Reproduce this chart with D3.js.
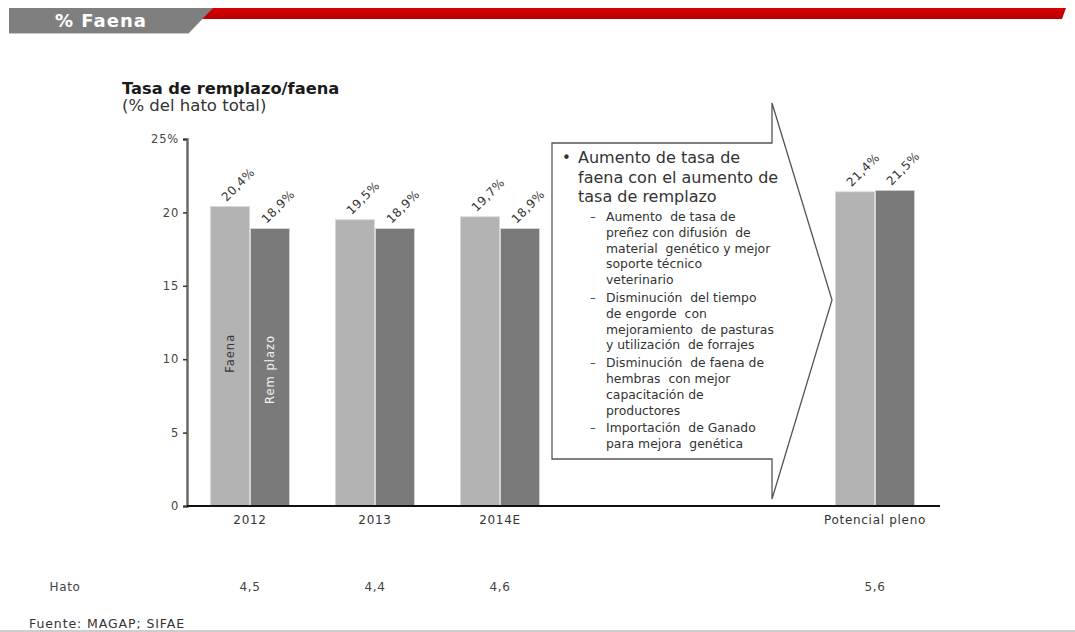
<!DOCTYPE html>
<html>
<head>
<meta charset="utf-8">
<script src="https://cdn.jsdelivr.net/npm/d3@7"></script>
<style>
  html, body { margin: 0; padding: 0; background: #fff; }
  svg { display: block; font-family: "DejaVu Sans", Verdana, sans-serif; }
</style>
</head>
<body>
<svg id="chart" width="1075" height="632"></svg>
<script>
// ---- data ----
const categories = ["2012", "2013", "2014E", "Potencial pleno"];
const slots = ["2012", "2013", "2014E", "_a", "_b", "Potencial pleno"];
const faena = [20.4, 19.5, 19.7, 21.4];
const remplazo = [18.9, 18.9, 18.9, 21.5];
const hato = [4.5, 4.4, 4.6, 5.6];
const yTicks = [0, 5, 10, 15, 20, 25];
const seriesNames = ["Faena", "Remplazo"];

const calloutMain = ["Aumento de tasa de", "faena con el aumento de", "tasa de remplazo"];
const calloutItems = [
  ["Aumento  de tasa de", "preñez con difusión  de", "material  genético y mejor", "soporte técnico", "veterinario"],
  ["Disminución  del tiempo", "de engorde  con", "mejoramiento  de pasturas", "y utilización  de forrajes"],
  ["Disminución  de faena de", "hembras  con mejor", "capacitación de", "productores"],
  ["Importación  de Ganado", "para mejora  genética"]
];

const comma = v => d3.format(".1f")(v).replace(".", ",");

const svg = d3.select("#chart");

// ---- header band ----
const hdrGrad = svg.append("defs").append("linearGradient")
  .attr("id", "redGrad").attr("x1", 0).attr("x2", 0).attr("y1", 0).attr("y2", 1);
hdrGrad.append("stop").attr("offset", "0%").attr("stop-color", "#d90000");
hdrGrad.append("stop").attr("offset", "100%").attr("stop-color", "#b80000");

svg.append("path")
  .attr("d", "M205,8 L1066,8 L1062,19 L200,19 Z")
  .attr("fill", "url(#redGrad)");
svg.append("path")
  .attr("d", "M9,8 L213,8 L189,33 L9,33 Z")
  .attr("fill", "#7f7f7f");
svg.append("line")
  .attr("x1", 9).attr("x2", 189).attr("y1", 33.5).attr("y2", 33.5)
  .attr("stroke", "#c8c8c8").attr("stroke-width", 1);
svg.append("text")
  .attr("x", 101).attr("y", 27)
  .attr("text-anchor", "middle")
  .attr("fill", "#fff").attr("font-weight", "bold").attr("font-size", 18)
  .attr("letter-spacing", 1)
  .text("% Faena");

// ---- titles ----
svg.append("text").attr("x", 122).attr("y", 94)
  .attr("font-weight", "bold").attr("font-size", 16.3).attr("fill", "#1a1a1a")
  .text("Tasa de remplazo/faena");
svg.append("text").attr("x", 122).attr("y", 111)
  .attr("font-size", 16.5).attr("fill", "#333")
  .text("(% del hato total)");

// ---- scales ----
const x = d3.scaleBand().domain(slots).range([187.5, 937.5]).paddingInner(0).paddingOuter(0);
const y = d3.scaleLinear().domain([0, 25]).range([506, 139]);
const barW = 40;

// ---- bars ----
const colors = { Faena: "#b3b3b3", Remplazo: "#7a7a7a" };
const rows = categories.map((c, i) => ({ cat: c, Faena: faena[i], Remplazo: remplazo[i] }));

const gBars = svg.append("g");
rows.forEach(r => {
  const cx = x(r.cat) + x.bandwidth() / 2;
  seriesNames.forEach((s, j) => {
    const x0 = cx - barW + j * barW;
    gBars.append("rect")
      .attr("x", x0 + 0.5).attr("y", y(r[s]))
      .attr("width", barW - 1).attr("height", y(0) - y(r[s]))
      .attr("fill", colors[s])
      .attr("stroke", "#d6d6d6").attr("stroke-width", 0.8);
    // rotated value label
    gBars.append("text")
      .attr("transform", `translate(${x0 + barW / 2 + 8},${y(r[s]) - 22}) rotate(-45)`)
      .attr("text-anchor", "middle").attr("dy", "0.35em")
      .attr("font-size", 12).attr("letter-spacing", 0.6).attr("fill", "#333")
      .text(comma(r[s]) + "%");
  });
});

// series names inside the first pair of bars
const first = rows[0];
const fcx = x(first.cat) + x.bandwidth() / 2;
svg.append("text")
  .attr("transform", `translate(${fcx - barW / 2},${y(10.4)}) rotate(-90)`)
  .attr("text-anchor", "middle").attr("dy", "0.35em")
  .attr("font-size", 11.5).attr("letter-spacing", 1).attr("fill", "#333")
  .text(seriesNames[0]);
svg.append("text")
  .attr("transform", `translate(${fcx + barW / 2},${y(9.3)}) rotate(-90)`)
  .attr("text-anchor", "middle").attr("dy", "0.35em")
  .attr("font-size", 11.5).attr("letter-spacing", 1).attr("fill", "#f2f2f2")
  .text("Rem plazo");

// ---- axes ----
const yAxis = svg.append("g")
  .attr("transform", "translate(187,0)")
  .call(d3.axisLeft(y).tickValues(yTicks).tickSize(4).tickPadding(4)
    .tickFormat(d => d === 25 ? "25%" : d));
yAxis.select(".domain").attr("stroke", "#6a6a6a").attr("stroke-width", 2.5);
yAxis.selectAll(".tick line").attr("stroke", "#333").attr("stroke-width", 1.5);
yAxis.selectAll(".tick text").attr("font-size", 11.5).attr("letter-spacing", 0.8).attr("fill", "#444")
  .attr("font-family", "DejaVu Sans, sans-serif");

const xAxis = svg.append("g")
  .attr("transform", `translate(0,${y(0)})`)
  .call(d3.axisBottom(x).tickSize(0).tickPadding(9)
    .tickFormat(d => categories.includes(d) ? d : ""));
xAxis.select(".domain").attr("stroke", "#111").attr("stroke-width", 1.8)
  .attr("d", `M187,0H940`);
xAxis.selectAll(".tick text").attr("font-size", 12).attr("letter-spacing", 0.7).attr("fill", "#333")
  .attr("font-family", "DejaVu Sans, sans-serif");

// ---- herd row ----
svg.append("text").attr("x", 65).attr("y", 591).attr("text-anchor", "middle")
  .attr("font-size", 12).attr("letter-spacing", 0.6).attr("fill", "#444").text("Hato");
svg.append("g").selectAll("text").data(categories).join("text")
  .attr("x", d => x(d) + x.bandwidth() / 2)
  .attr("y", 591).attr("text-anchor", "middle")
  .attr("font-size", 12).attr("letter-spacing", 0.6).attr("fill", "#444")
  .text((d, i) => comma(hato[i]));

// ---- source & bottom rule ----
svg.append("text").attr("x", 29).attr("y", 628)
  .attr("font-size", 12.5).attr("letter-spacing", 0.9).attr("fill", "#333").text("Fuente: MAGAP; SIFAE");
svg.append("line").attr("x1", 0).attr("x2", 1075).attr("y1", 631).attr("y2", 631)
  .attr("stroke", "#bdbdbd").attr("stroke-width", 1.5);

// ---- callout arrow ----
const box = { l: 552, t: 143, r: 772, b: 459 };
const head = { top: 103, tipX: 832, tipY: 300, bot: 499 };
svg.append("path")
  .attr("d", `M${box.l},${box.t} H${box.r} V${head.top} L${head.tipX},${head.tipY} L${box.r},${head.bot} V${box.b} H${box.l} Z`)
  .attr("fill", "#fff").attr("stroke", "#555").attr("stroke-width", 1.3)
  .attr("stroke-linejoin", "miter");

const gc = svg.append("g");
gc.append("text").attr("x", 562).attr("y", 163).attr("font-size", 15).attr("fill", "#333").text("•");
calloutMain.forEach((t, i) => {
  gc.append("text").attr("x", 578).attr("y", 163 + i * 19.5)
    .attr("font-size", 16).attr("fill", "#333").text(t);
});
let ly = 221;
calloutItems.forEach(item => {
  gc.append("text").attr("x", 590).attr("y", ly).attr("font-size", 11.5).attr("fill", "#444").text("–");
  item.forEach((t, k) => {
    gc.append("text").attr("x", 606).attr("y", ly + k * 15.8)
      .attr("font-size", 12.4).attr("fill", "#333")
      .style("white-space", "pre")
      .text(t);
  });
  ly += item.length * 15.8 + 2;
});
</script>
</body>
</html>
